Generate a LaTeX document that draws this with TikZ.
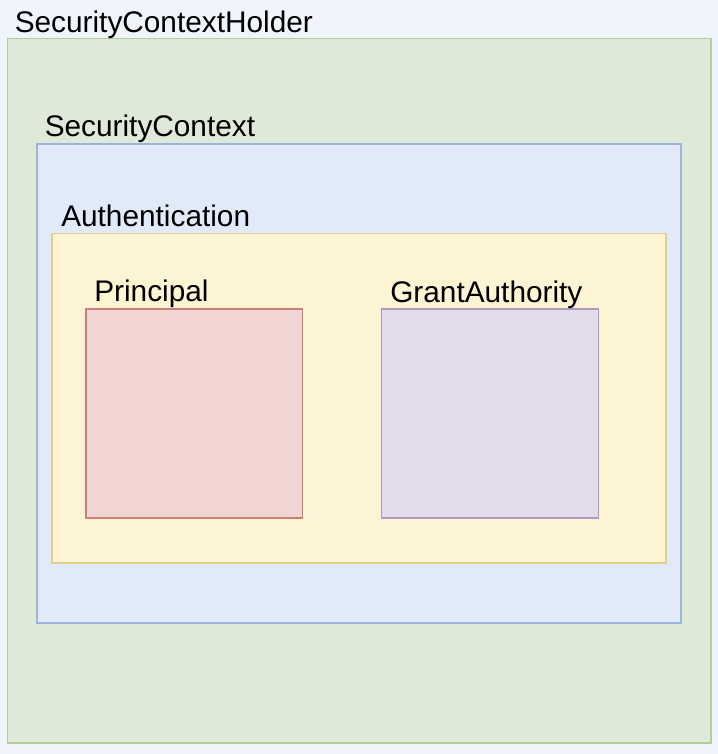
\documentclass[tikz,border=0pt]{standalone}
\usepackage{fontspec}
\setmainfont{Liberation Sans}
\usepackage{tikz}

\definecolor{pageBg}{RGB}{239,244,253}
\definecolor{holderFill}{RGB}{223,233,215}
\definecolor{holderLine}{RGB}{179,206,156}
\definecolor{contextFill}{RGB}{225,234,249}
\definecolor{contextLine}{RGB}{157,179,223}
\definecolor{authFill}{RGB}{253,244,212}
\definecolor{authLine}{RGB}{228,207,137}
\definecolor{principalFill}{RGB}{241,213,210}
\definecolor{principalLine}{RGB}{201,127,122}
\definecolor{grantFill}{RGB}{226,219,234}
\definecolor{grantLine}{RGB}{174,155,194}

\begin{document}
\begin{tikzpicture}[x=0.75pt,y=0.75pt,yscale=-1,xscale=1,
  box/.style={line width=1.1pt},
  lbl/.style={anchor=base west,inner sep=0pt,font=\fontsize{22.35}{26}\selectfont}]
%set diagram size 718 x 754
\path [fill=pageBg] (0,0) rectangle (718,754);

%Shape: Rectangle [holder]
\draw [box,draw=holderLine,fill=holderFill] (7.5,38.5) rectangle (711,743) ;
%Shape: Rectangle [context]
\draw [box,draw=contextLine,fill=contextFill] (37,144) rectangle (681,623) ;
%Shape: Rectangle [authentication]
\draw [box,draw=authLine,fill=authFill] (52,233.5) rectangle (666,563) ;
%Shape: Rectangle [principal]
\draw [box,draw=principalLine,fill=principalFill] (86,309) rectangle (302.5,518) ;
%Shape: Rectangle [grant]
\draw [box,draw=grantLine,fill=grantFill] (381.5,309) rectangle (598.5,518) ;

% Text Node
\node [lbl] (holderLbl) at (14.5,32) {SecurityContextHolder};
% Text Node
\node [lbl] (contextLbl) at (44.5,136) {SecurityContext};
% Text Node
\node [lbl] (authLbl) at (61,226.5) {Authentication};
% Text Node
\node [lbl] (principalLbl) at (94,301.5) {Principal};
% Text Node
\node [lbl] (grantLbl) at (390,302) {GrantAuthority};

\end{tikzpicture}
\end{document}
